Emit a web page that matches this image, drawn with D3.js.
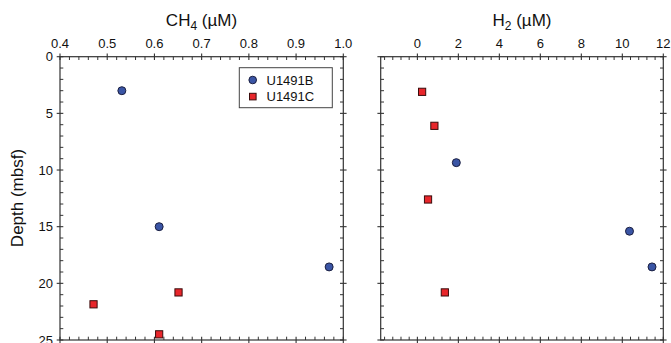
<!DOCTYPE html>
<html>
<head>
<meta charset="utf-8">
<script src="https://cdn.jsdelivr.net/npm/d3@7"></script>
<style>
  body { margin: 0; background: #fff; }
  svg text { font-family: "Liberation Sans", Arial, Helvetica, sans-serif; fill: #111; }
</style>
</head>
<body>
<svg id="chart" width="671" height="343"></svg>
<script>
// ---- data ----
const ch4B_depth = [3.0, 15.0, 18.55];
const ch4B_value = [0.531, 0.61, 0.97];
const ch4C_depth = [21.85, 20.8, 24.5];
const ch4C_value = [0.471, 0.651, 0.61];
const h2B_depth = [9.35, 15.4, 18.55];
const h2B_value = [1.9, 10.35, 11.45];
const h2C_depth = [3.1, 6.1, 12.6, 20.8];
const h2C_value = [0.23, 0.83, 0.52, 1.34];
const ch4Ticks = [0.4, 0.5, 0.6, 0.7, 0.8, 0.9, 1.0];
const h2Ticks = [0, 2, 4, 6, 8, 10, 12];
const depthTicks = [0, 5, 10, 15, 20, 25];
const seriesNames = ["U1491B", "U1491C"];

const svg = d3.select("#chart");
const yTop = 56.7, yBot = 340;
const y = d3.scaleLinear().domain([0, 25]).range([yTop, yBot]);
const xL = d3.scaleLinear().domain([0.4, 1.0]).range([60, 343.3]);
const xR = d3.scaleLinear().domain([-1.79, 12]).range([380.7, 663.3]);

const axisColor = "#333";

function frame(x, xMajor, xMinor, showYLabels) {
  const x0 = x.range()[0], x1 = x.range()[1];
  const g = svg.append("g");
  g.append("rect").attr("x", x0).attr("y", yTop).attr("width", x1 - x0).attr("height", yBot - yTop)
    .attr("fill", "none").attr("stroke", axisColor).attr("stroke-width", 1.2);
  xMajor.forEach(v => {
    [yTop, yBot].forEach(yy => {
      g.append("line").attr("x1", x(v)).attr("x2", x(v)).attr("y1", yy - 3.3).attr("y2", yy + 3.3)
        .attr("stroke", axisColor).attr("stroke-width", 1.1);
    });
  });
  xMinor.forEach(v => {
    g.append("line").attr("x1", x(v)).attr("x2", x(v)).attr("y1", yTop).attr("y2", yTop + 3.3)
      .attr("stroke", axisColor).attr("stroke-width", 1);
    g.append("line").attr("x1", x(v)).attr("x2", x(v)).attr("y1", yBot).attr("y2", yBot - 3.3)
      .attr("stroke", axisColor).attr("stroke-width", 1);
  });
  d3.range(0, 26, 1).forEach(v => {
    const major = v % 5 === 0;
    if (major) {
      [x0, x1].forEach(xx => {
        g.append("line").attr("x1", xx - 3.3).attr("x2", xx + 3.3).attr("y1", y(v)).attr("y2", y(v))
          .attr("stroke", axisColor).attr("stroke-width", 1.1);
      });
    } else {
      g.append("line").attr("x1", x0).attr("x2", x0 + 3.3).attr("y1", y(v)).attr("y2", y(v))
        .attr("stroke", axisColor).attr("stroke-width", 1);
      g.append("line").attr("x1", x1).attr("x2", x1 - 3.3).attr("y1", y(v)).attr("y2", y(v))
        .attr("stroke", axisColor).attr("stroke-width", 1);
    }
  });
  xMajor.forEach(v => {
    g.append("text").attr("x", x(v)).attr("y", yTop - 9).attr("text-anchor", "middle")
      .attr("font-size", 13).text(x === xL ? d3.format(".1f")(v) : v);
  });
  if (showYLabels) {
    depthTicks.forEach(v => {
      g.append("text").attr("x", x0 - 7).attr("y", y(v)).attr("dy", "0.36em")
        .attr("text-anchor", "end").attr("font-size", 13).text(v);
    });
  }
}

frame(xL, ch4Ticks, d3.range(0.42, 1.0, 0.02).filter(v => Math.abs(v * 10 - Math.round(v * 10)) > 0.01), true);
frame(xR, h2Ticks, d3.range(-1.6, 12, 0.4).filter(v => Math.abs(v / 2 - Math.round(v / 2)) > 0.01), false);

const t1 = svg.append("text").attr("x", 201.5).attr("y", 26).attr("text-anchor", "middle").attr("font-size", 17);
t1.append("tspan").text("CH");
t1.append("tspan").attr("font-size", 12).attr("dy", 4).text("4");
t1.append("tspan").attr("dy", -4).text(" (µM)");
const t2 = svg.append("text").attr("x", 522).attr("y", 26).attr("text-anchor", "middle").attr("font-size", 17);
t2.append("tspan").text("H");
t2.append("tspan").attr("font-size", 12).attr("dy", 4).text("2");
t2.append("tspan").attr("dy", -4).text(" (µM)");

svg.append("text").attr("transform", "translate(23,198) rotate(-90)").attr("text-anchor", "middle")
  .attr("font-size", 17).text("Depth (mbsf)");

const blueFill = "#3a55a5", blueStroke = "#1b1f40";
const redFill = "#e8262b", redStroke = "#3a0c0c";

function circles(x, vals, deps) {
  svg.append("g").selectAll("circle").data(vals.map((v, i) => [v, deps[i]])).join("circle")
    .attr("cx", d => x(d[0])).attr("cy", d => y(d[1])).attr("r", 4)
    .attr("fill", blueFill).attr("stroke", blueStroke).attr("stroke-width", 1);
}
function squares(x, vals, deps) {
  svg.append("g").selectAll("rect").data(vals.map((v, i) => [v, deps[i]])).join("rect")
    .attr("x", d => x(d[0]) - 3.6).attr("y", d => y(d[1]) - 3.6).attr("width", 7.2).attr("height", 7.2)
    .attr("fill", redFill).attr("stroke", redStroke).attr("stroke-width", 1);
}
circles(xL, ch4B_value, ch4B_depth);
squares(xL, ch4C_value, ch4C_depth);
circles(xR, h2B_value, h2B_depth);
squares(xR, h2C_value, h2C_depth);

const lg = svg.append("g");
lg.append("rect").attr("x", 239.3).attr("y", 67.7).attr("width", 93).attr("height", 40)
  .attr("fill", "#fff").attr("stroke", "#444").attr("stroke-width", 1);
lg.append("circle").attr("cx", 252.7).attr("cy", 80).attr("r", 3.8).attr("fill", blueFill).attr("stroke", blueStroke);
lg.append("rect").attr("x", 249.5).attr("y", 93.3).attr("width", 6.6).attr("height", 6.6).attr("fill", redFill).attr("stroke", redStroke);
lg.append("text").attr("x", 266.5).attr("y", 80).attr("dy", "0.36em").attr("font-size", 13).text(seriesNames[0]);
lg.append("text").attr("x", 266.5).attr("y", 96.7).attr("dy", "0.36em").attr("font-size", 13).text(seriesNames[1]);
</script>
</body>
</html>
